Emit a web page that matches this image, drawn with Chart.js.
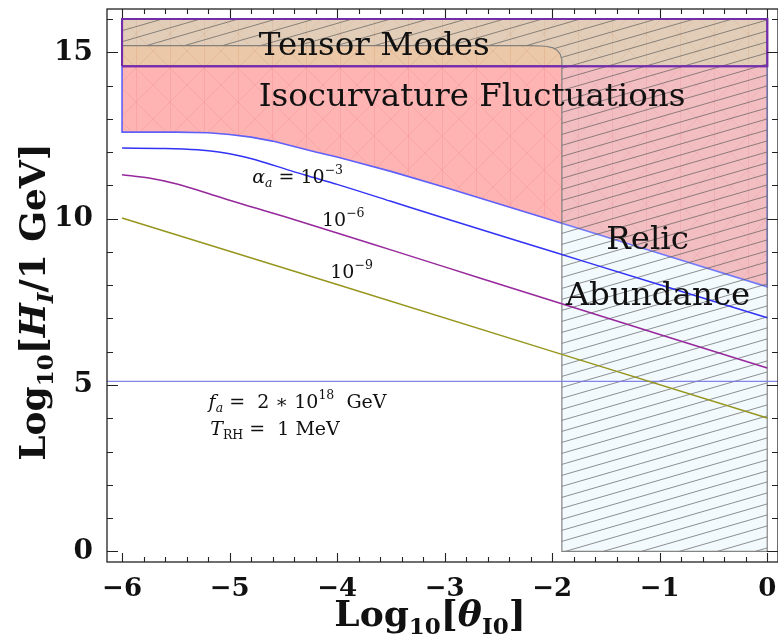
<!DOCTYPE html>
<html lang="en">
<head>
<meta charset="UTF-8">
<title>Isocurvature and relic abundance bounds</title>
<script src="https://cdn.jsdelivr.net/npm/chart.js"></script>
<style>
    html, body { margin: 0; padding: 0; background: #fff; }
    #wrap { width: 778px; height: 640px; }
</style>
</head>
<body>
<div id="wrap"><canvas id="chart" width="778" height="640"></canvas></div>
<script>
// values: x = log10(theta_I0), y = log10(H_I / 1 GeV)
const xTicks = [-6, -5, -4, -3, -2, -1, 0];
const yTicks = [0, 5, 10, 15];

// lower edge of the isocurvature exclusion region
const isoX = [-6, -5.5, -5.2, -5.0, -4.8, -4.6, -4.4, -4.2, -4.0, -3.8, -3.5, -3.0, -2.0, -1.0, 0];
const isoY = [12.6, 12.6, 12.58, 12.53, 12.45, 12.33, 12.17, 12.0, 11.85, 11.68, 11.42, 10.94, 9.95, 8.95, 7.95];
const isoTop = 14.58;

// tensor modes band
const tensorX = [-6, 0, 0, -6, -6];
const tensorY = [14.58, 14.58, 16.0, 16.0, 14.58];

// relic abundance region (hatched)
const relicX = [-6, -2.2, -2.06, -1.99, -1.95, -1.925, -1.91, -1.91, 0, 0, -6, -6];
const relicY = [15.2, 15.2, 15.18, 15.13, 15.05, 14.94, 14.78, 0, 0, 16.0, 16.0, 15.2];
const relicEdgeX = [-6, -2.2, -2.06, -1.99, -1.95, -1.925, -1.91, -1.91, 0, 0];
const relicEdgeY = [15.2, 15.2, 15.18, 15.13, 15.05, 14.94, 14.78, 0, 0, 16.0];

// alpha_a = 1e-3, 1e-6, 1e-9
const a3X = [-6, -5.6, -5.3, -5.1, -4.9, -4.7, -4.5, -4.3, -4.0, -3.5, -3.0, -2.0, -1.0, 0];
const a3Y = [12.12, 12.11, 12.07, 12.0, 11.88, 11.71, 11.51, 11.31, 11.03, 10.52, 10.01, 9.01, 8.01, 7.02];
const a6X = [-6, -5.75, -5.5, -5.25, -5.0, -4.75, -4.5, -4.0, -3.5, -3.0, -2.0, -1.0, 0];
const a6Y = [11.32, 11.22, 11.05, 10.81, 10.55, 10.31, 10.07, 9.57, 9.06, 8.55, 7.53, 6.52, 5.51];
const a9X = [-6, -4, -2, 0];
const a9Y = [10.02, 8.02, 6.01, 4.01];

// horizontal reference line
const hLineX = [-6.14, 0.1];
const hLineY = [5.11, 5.11];

const SERIF = '"DejaVu Serif", "Liberation Serif", serif';

function pts(xs, ys) { return xs.map((x, i) => ({ x: x, y: ys[i] })); }

// closed outline of the isocurvature region
const isoPoly = [{ x: -6, y: isoTop }, { x: 0, y: isoTop }]
    .concat(pts(isoX, isoY).reverse())
    .concat([{ x: -6, y: isoTop }]);

const canvas = document.getElementById('chart');
const ctx = canvas.getContext('2d');

function makeHatch(bg, lineColor) {
    const w = 38, h = 11;
    const c = document.createElement('canvas');
    c.width = w; c.height = h;
    const g = c.getContext('2d');
    g.fillStyle = bg;
    g.fillRect(0, 0, w, h);
    g.strokeStyle = lineColor;
    g.lineWidth = 0.9;
    [-h, 0, h].forEach(off => {
        g.beginPath();
        g.moveTo(-w, 2 * h + off);
        g.lineTo(2 * w, -h + off);
        g.stroke();
    });
    return ctx.createPattern(c, 'repeat');
}

// faint triangle mesh like the one left in the exported region fills
function makeMesh(bg, lineColor) {
    const s = 34;
    const c = document.createElement('canvas');
    c.width = s; c.height = s;
    const g = c.getContext('2d');
    g.fillStyle = bg;
    g.fillRect(0, 0, s, s);
    g.strokeStyle = lineColor;
    g.lineWidth = 0.8;
    g.beginPath();
    g.moveTo(0.5, 0); g.lineTo(0.5, s);
    g.moveTo(0, 0); g.lineTo(s, s);
    g.moveTo(s, 0); g.lineTo(0, s);
    g.stroke();
    return ctx.createPattern(c, 'repeat');
}

function richWidth(c, parts) {
    let w = 0;
    parts.forEach(p => { c.font = p.font; w += c.measureText(p.t).width + (p.dx || 0); });
    return w;
}
function drawRich(c, parts, x, y, align) {
    const w = richWidth(c, parts);
    let cx = align === 'center' ? x - w / 2 : (align === 'right' ? x - w : x);
    c.textAlign = 'left';
    c.textBaseline = 'alphabetic';
    parts.forEach(p => {
        c.font = p.font;
        c.fillText(p.t, cx, y + (p.dy || 0));
        cx += c.measureText(p.t).width + (p.dx || 0);
    });
}

const big = '32.5px ' + SERIF;
const sm = '19px ' + SERIF;
const smI = 'italic 19px ' + SERIF;
const tiny = '12.5px ' + SERIF;
const tinyI = 'italic 12.5px ' + SERIF;

// labels placed in data coordinates
const textPlugin = {
    id: 'labels',
    afterDatasetsDraw(chart) {
        const c = chart.ctx, x = chart.scales.x, y = chart.scales.y;
        const X = v => x.getPixelForValue(v), Y = v => y.getPixelForValue(v);
        c.save();
        c.fillStyle = '#111';
        drawRich(c, [{ t: 'Tensor Modes', font: big }], X(-3.655), Y(14.93), 'center');
        drawRich(c, [{ t: 'Isocurvature Fluctuations', font: big }], X(-2.745), Y(13.375), 'center');
        drawRich(c, [{ t: 'Relic', font: big }], X(-1.113), Y(9.09), 'center');
        drawRich(c, [{ t: 'Abundance', font: big }], X(-1.016), Y(7.415), 'center');

        drawRich(c, [
            { t: 'α', font: smI }, { t: 'a', font: tinyI, dy: 4 },
            { t: ' = 10', font: sm }, { t: '−3', font: tiny, dy: -9 }
        ], X(-4.79), Y(11.07), 'left');
        drawRich(c, [{ t: '10', font: sm }, { t: '−6', font: tiny, dy: -9 }], X(-4.141), Y(9.79), 'left');
        drawRich(c, [{ t: '10', font: sm }, { t: '−9', font: tiny, dy: -9 }], X(-4.064), Y(8.22), 'left');

        drawRich(c, [
            { t: 'f', font: smI }, { t: 'a', font: tinyI, dy: 4 },
            { t: ' =  2 ∗ 10', font: sm }, { t: '18', font: tiny, dy: -9 }, { t: '  GeV', font: sm }
        ], X(-5.195), Y(4.31), 'left');
        drawRich(c, [
            { t: 'T', font: smI }, { t: 'RH', font: tiny, dy: 4 },
            { t: ' =  1 MeV', font: sm }
        ], X(-5.18), Y(3.51), 'left');
        c.restore();
    }
};

// Mathematica-style frame with inward ticks and axis titles
const framePlugin = {
    id: 'frame',
    afterDraw(chart) {
        const c = chart.ctx, a = chart.chartArea, x = chart.scales.x, y = chart.scales.y;
        c.save();
        c.strokeStyle = '#222';
        c.lineWidth = 1.3;
        c.strokeRect(a.left, a.top, a.right - a.left, a.bottom - a.top);
        c.lineWidth = 1.1;
        c.beginPath();
        for (let i = 0; i <= 30; i++) {
            const px = Math.round(x.getPixelForValue(-6 + i * 0.2)) + 0.5;
            const len = i % 5 === 0 ? 9 : 5;
            c.moveTo(px, a.bottom); c.lineTo(px, a.bottom - len);
            c.moveTo(px, a.top); c.lineTo(px, a.top + len);
        }
        for (let v = 0; v <= 16; v++) {
            const py = Math.round(y.getPixelForValue(v)) + 0.5;
            const len = v % 5 === 0 ? 11 : 6;
            c.moveTo(a.left, py); c.lineTo(a.left + len, py);
            c.moveTo(a.right, py); c.lineTo(a.right - len, py);
        }
        c.stroke();

        c.fillStyle = '#111';
        const tb = 'bold 36px ' + SERIF, ts = 'bold 23px ' + SERIF;
        const tbi = 'bold italic 36px ' + SERIF, tsi = 'bold italic 23px ' + SERIF;
        drawRich(c, [
            { t: 'Log', font: tb }, { t: '10', font: ts, dy: 8 },
            { t: '[', font: tb }, { t: 'θ', font: tbi }, { t: 'I0', font: ts, dy: 8 }, { t: ']', font: tb }
        ], 430, 626, 'center');

        c.translate(45, 302);
        c.rotate(-Math.PI / 2);
        drawRich(c, [
            { t: 'Log', font: tb }, { t: '10', font: ts, dy: 8 },
            { t: '[', font: tb }, { t: 'H', font: tbi }, { t: 'I', font: tsi, dy: 8 }, { t: '/1 GeV]', font: tb }
        ], 0, 0, 'center');
        c.restore();
    }
};

const tickFmt = v => (v < 0 ? '−' + Math.abs(v) : String(v));
const noPad = s => { s.paddingLeft = 0; s.paddingRight = 0; s.paddingTop = 0; s.paddingBottom = 0; };

new Chart(ctx, {
    type: 'line',
    data: {
        datasets: [
            { data: pts(a9X, a9Y), borderColor: 'rgb(150,150,30)', borderWidth: 1.5, tension: 0, order: 1 },
            { data: pts(a6X, a6Y), borderColor: 'rgb(150,40,155)', borderWidth: 1.5, tension: 0.4, cubicInterpolationMode: 'monotone', order: 2 },
            { data: pts(a3X, a3Y), borderColor: 'rgb(50,50,245)', borderWidth: 1.5, tension: 0.4, cubicInterpolationMode: 'monotone', order: 3 },
            { data: pts(hLineX, hLineY), borderColor: 'rgba(120,120,230,0.9)', borderWidth: 1.2, order: 4 },
            { data: pts(tensorX, tensorY), borderColor: 'rgb(115,45,170)', borderWidth: 2, fill: false, order: 5 },
            { data: pts(relicEdgeX, relicEdgeY), borderColor: 'rgba(120,120,120,0.9)', borderWidth: 1.2, fill: false, order: 6 },
            { data: pts(relicX, relicY), borderWidth: 0, borderColor: 'rgba(0,0,0,0)', fill: 'shape',
              backgroundColor: makeHatch('rgba(195,232,250,0.2)', 'rgba(90,90,90,0.75)'), order: 7 },
            { data: pts(tensorX, tensorY), borderColor: 'rgb(115,45,170)', borderWidth: 2, fill: 'shape',
              backgroundColor: makeMesh('rgb(234,200,168)', 'rgba(225,170,130,0.6)'), order: 8 },
            { data: isoPoly, borderColor: 'rgb(95,95,250)', borderWidth: 1.6, fill: 'shape',
              backgroundColor: makeMesh('rgb(255,180,180)', 'rgba(245,150,150,0.55)'), order: 9 }
        ]
    },
    options: {
        responsive: false,
        animation: false,
        devicePixelRatio: 1,
        layout: { padding: { top: 9, right: 0, left: 0, bottom: 0 } },
        elements: { point: { radius: 0 }, line: { borderCapStyle: 'butt' } },
        plugins: { legend: { display: false }, tooltip: { enabled: false } },
        scales: {
            x: {
                type: 'linear', min: -6.14, max: 0.1,
                grid: { display: false, drawTicks: false },
                border: { display: false },
                afterBuildTicks: s => { s.ticks = xTicks.map(v => ({ value: v })); },
                afterFit: s => { s.height = 78; noPad(s); },
                ticks: { padding: 12, color: '#111', callback: tickFmt,
                         font: { family: SERIF, size: 26, weight: 'bold' } }
            },
            y: {
                type: 'linear', min: -0.32, max: 16.3,
                grid: { display: false, drawTicks: false },
                border: { display: false },
                afterBuildTicks: s => { s.ticks = yTicks.map(v => ({ value: v })); },
                afterFit: s => { s.width = 107; noPad(s); },
                ticks: { padding: 14, color: '#111', callback: tickFmt,
                         font: { family: SERIF, size: 28, weight: 'bold' } }
            }
        }
    },
    plugins: [textPlugin, framePlugin]
});
</script>
</body>
</html>
